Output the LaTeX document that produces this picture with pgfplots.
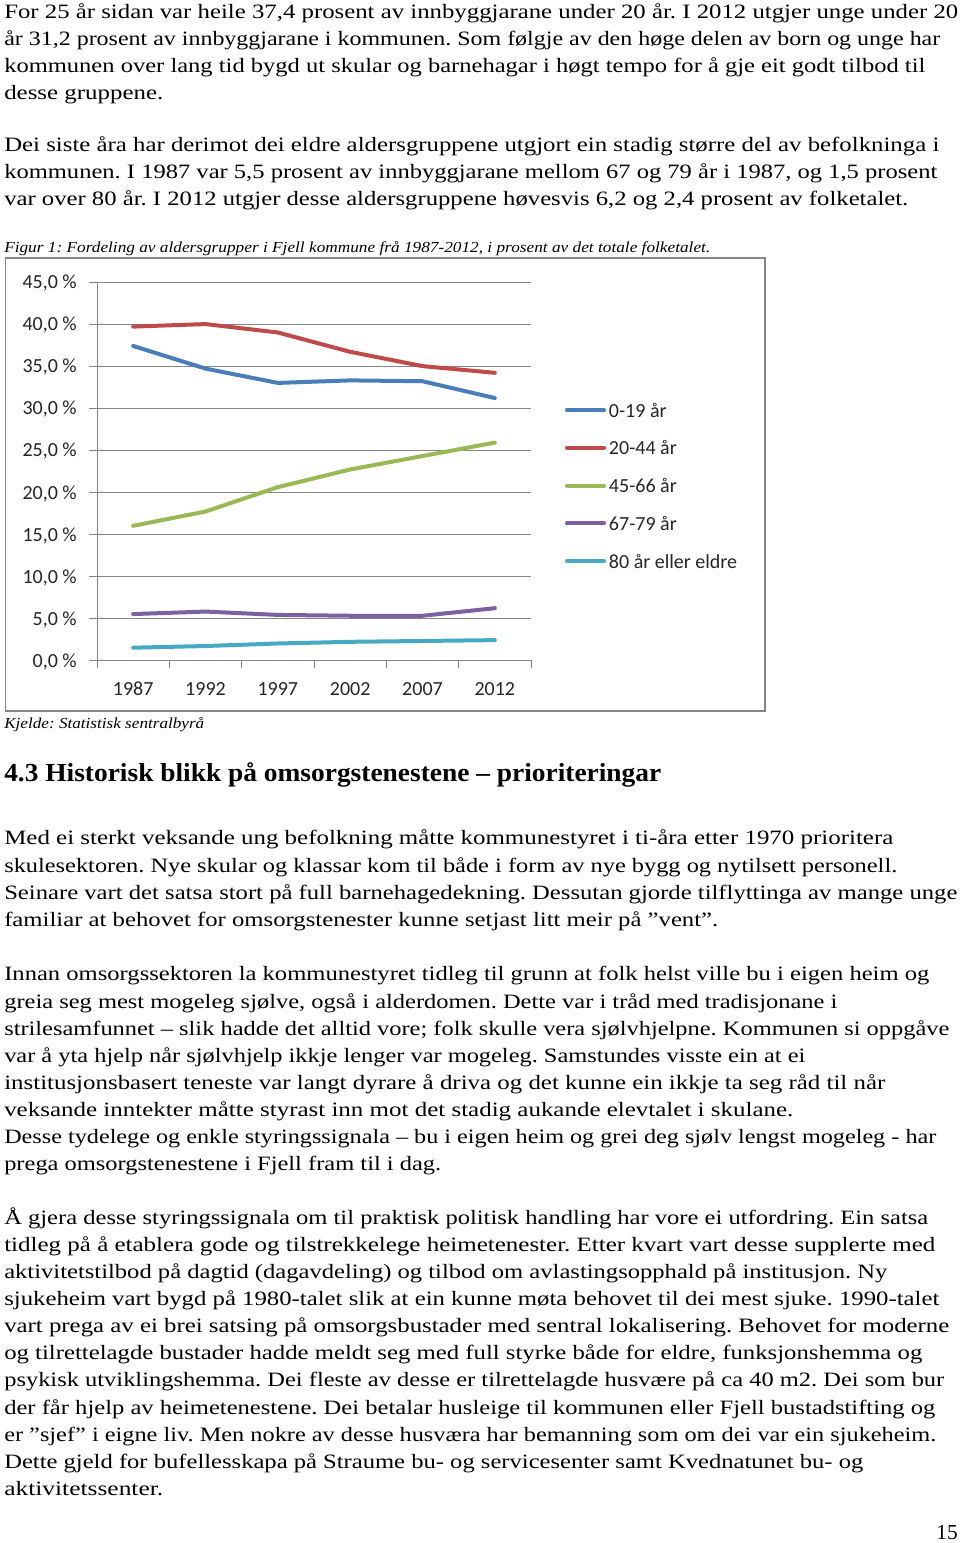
\documentclass[border=0pt]{standalone}
\usepackage{fontspec}
\setmainfont{Liberation Serif}
\newfontfamily\chartfont{Carlito}
\usepackage{graphicx}
\usepackage{pgfplots}
\pgfplotsset{compat=1.18}
\frenchspacing
\newdimen\pxu \pxu=0.75pt
\definecolor{gridgray}{RGB}{134,134,134}
\definecolor{cA}{RGB}{74,126,187}
\definecolor{cB}{RGB}{190,75,72}
\definecolor{cC}{RGB}{152,185,84}
\definecolor{cD}{RGB}{125,96,160}
\definecolor{cE}{RGB}{70,170,197}
\newcommand{\TL}[3]{\node[anchor=mid west, inner sep=0pt, yshift=-2.25pt, font=\fontsize{15.3}{18}\selectfont] at (4,#1) {\resizebox{\dimexpr\pxu*#2\relax}{\height}{#3}};}

\pgfplotstableread{
x v1 v2 v3 v4 v5
0 37.4 39.7 16.0 5.5 1.5
1 34.7 40.0 17.7 5.8 1.7
2 33.0 39.0 20.6 5.4 2.0
3 33.3 36.7 22.7 5.3 2.2
4 33.2 35.0 24.3 5.3 2.3
5 31.2 34.2 25.9 6.2 2.4
}\agedata

\begin{document}
\begin{tikzpicture}
\begin{scope}[x=0.75pt,y=-0.75pt]
\path[use as bounding box, fill=white] (0,0) rectangle (960,1543);
% paragraph 1
\TL{12.5}{954}{For 25 år sidan var heile 37,4 prosent av innbyggjarane under 20 år. I 2012 utgjer unge under 20}
\TL{39.6}{936}{år 31,2 prosent av innbyggjarane i kommunen. Som følgje av den høge delen av born og unge har}
\TL{66.8}{921}{kommunen over lang tid bygd ut skular og barnehagar i høgt tempo for å gje eit godt tilbod til}
\TL{93.9}{159}{desse gruppene.}
% paragraph 2
\TL{145}{935}{Dei siste åra har derimot dei eldre aldersgruppene utgjort ein stadig større del av befolkninga i}
\TL{172.2}{933}{kommunen. I 1987 var 5,5 prosent av innbyggjarane mellom 67 og 79 år i 1987, og 1,5 prosent}
\TL{199.3}{904}{var over 80 år. I 2012 utgjer desse aldersgruppene høvesvis 6,2 og 2,4 prosent av folketalet.}
% caption
\node[anchor=mid west, inner sep=0pt, font=\fontsize{11.5}{14}\selectfont\itshape] at (4,249) {\resizebox{\dimexpr\pxu*706\relax}{\height}{Figur 1: Fordeling av aldersgrupper i Fjell kommune frå 1987-2012, i prosent av det totale folketalet.}};
% chart frame
\draw[gridgray, line width=1.2pt] (5.5,258) rectangle (765,711);
% source
\node[anchor=mid west, inner sep=0pt, font=\fontsize{11.5}{14}\selectfont\itshape] at (4,725) {\resizebox{\dimexpr\pxu*200\relax}{\height}{Kjelde: Statistisk sentralbyrå}};
% heading
\node[anchor=mid west, inner sep=0pt, font=\fontsize{19.5}{23}\selectfont\bfseries] at (4,778) {\resizebox{\dimexpr\pxu*657\relax}{\height}{4.3 Historisk blikk på omsorgstenestene – prioriteringar}};
% paragraph 3
\TL{838.8}{889}{Med ei sterkt veksande ung befolkning måtte kommunestyret i ti-åra etter 1970 prioritera}
\TL{866}{893}{skulesektoren. Nye skular og klassar kom til både i form av nye bygg og nytilsett personell.}
\TL{893.1}{953}{Seinare vart det satsa stort på full barnehagedekning. Dessutan gjorde tilflyttinga av mange unge}
\TL{920.3}{714}{familiar at behovet for omsorgstenester kunne setjast litt meir på ”vent”.}
% paragraph 4
\TL{974.8}{925}{Innan omsorgssektoren la kommunestyret tidleg til grunn at folk helst ville bu i eigen heim og}
\TL{1002}{833}{greia seg mest mogeleg sjølve, også i alderdomen. Dette var i tråd med tradisjonane i}
\TL{1029.1}{945}{strilesamfunnet – slik hadde det alltid vore; folk skulle vera sjølvhjelpne. Kommunen si oppgåve}
\TL{1056.3}{801}{var å yta hjelp når sjølvhjelp ikkje lenger var mogeleg. Samstundes visste ein at ei}
\TL{1083.4}{881}{institusjonsbasert teneste var langt dyrare å driva og det kunne ein ikkje ta seg råd til når}
\TL{1110.6}{789}{veksande inntekter måtte styrast inn mot det stadig aukande elevtalet i skulane.}
\TL{1137.7}{932}{Desse tydelege og enkle styringssignala – bu i eigen heim og grei deg sjølv lengst mogeleg - har}
\TL{1164.9}{437}{prega omsorgstenestene i Fjell fram til i dag.}
% paragraph 5
\TL{1218}{924}{Å gjera desse styringssignala om til praktisk politisk handling har vore ei utfordring. Ein satsa}
\TL{1245.2}{931}{tidleg på å etablera gode og tilstrekkelege heimetenester. Etter kvart vart desse supplerte med}
\TL{1272.3}{883}{aktivitetstilbod på dagtid (dagavdeling) og tilbod om avlastingsopphald på institusjon. Ny}
\TL{1299.5}{935}{sjukeheim vart bygd på 1980-talet slik at ein kunne møta behovet til dei mest sjuke. 1990-talet}
\TL{1326.6}{945}{vart prega av ei brei satsing på omsorgsbustader med sentral lokalisering. Behovet for moderne}
\TL{1353.8}{918}{og tilrettelagde bustader hadde meldt seg med full styrke både for eldre, funksjonshemma og}
\TL{1380.9}{940}{psykisk utviklingshemma. Dei fleste av desse er tilrettelagde husvære på ca 40 m2. Dei som bur}
\TL{1408.1}{931}{der får hjelp av heimetenestene. Dei betalar husleige til kommunen eller Fjell bustadstifting og}
\TL{1435.2}{932}{er ”sjef” i eigne liv. Men nokre av desse husværa har bemanning som om dei var ein sjukeheim.}
\TL{1462.4}{859}{Dette gjeld for bufellesskapa på Straume bu- og servicesenter samt Kvednatunet bu- og}
\TL{1489.5}{159}{aktivitetssenter.}
% page number
\node[anchor=mid east, inner sep=0pt, font=\fontsize{16}{19}\selectfont] at (958,1536) {15};
\end{scope}

\begin{axis}[
  at={(72.75pt,-495.225pt)}, anchor=south west,
  scale only axis, width=325.5pt, height=283.7pt,
  xmin=-0.5, xmax=5.5, ymin=0, ymax=45,
  axis x line*=bottom, axis y line*=left,
  axis line style={gridgray, line width=0.75pt},
  xtick={0,...,5},
  xticklabels={1987,1992,1997,2002,2007,2012},
  minor xtick={-0.5,0.5,...,5.5},
  major x tick style={draw=none},
  minor x tick style={gridgray, line width=0.75pt},
  ytick={0,5,...,45},
  yticklabels={{0,0~\%},{5,0~\%},{10,0~\%},{15,0~\%},{20,0~\%},{25,0~\%},{30,0~\%},{35,0~\%},{40,0~\%},{45,0~\%}},
  y tick style={gridgray, line width=0.75pt},
  tick align=outside,
  major tick length=6pt, minor tick length=6pt,
  ymajorgrids, grid style={gridgray, line width=0.75pt},
  ticklabel style={font=\chartfont\fontsize{15}{18}\selectfont, text=black!85},
  yticklabel style={anchor=east, inner sep=0pt, text depth=0pt, xshift=-9pt},
  xticklabel style={anchor=center, inner sep=0pt, yshift=-15.5pt},
  legend style={at={(1.0737,0.462)}, anchor=west, draw=none, fill=none,
    inner sep=0pt, outer sep=0pt,
    font=\chartfont\fontsize{15}{18}\selectfont, text=black!85,
    row sep=17.55pt, column sep=0pt,
    nodes={inner sep=0pt, text height=10.8pt, text depth=0pt}},
  legend cell align=left,
  legend image code/.code={\draw[#1, line width=3pt, line cap=round] (1.5pt,0pt) -- (29.25pt,0pt); \path (0pt,0pt) (31.5pt,0pt);},
  every axis plot/.append style={line width=3pt, line join=round, line cap=round, mark=none},
]
\addplot[cA] table[x=x, y=v1] {\agedata};
\addlegendentry{0-19 år}
\addplot[cB] table[x=x, y=v2] {\agedata};
\addlegendentry{20-44 år}
\addplot[cC] table[x=x, y=v3] {\agedata};
\addlegendentry{45-66 år}
\addplot[cD] table[x=x, y=v4] {\agedata};
\addlegendentry{67-79 år}
\addplot[cE] table[x=x, y=v5] {\agedata};
\addlegendentry{80 år eller eldre}
\end{axis}
\end{tikzpicture}
\end{document}
